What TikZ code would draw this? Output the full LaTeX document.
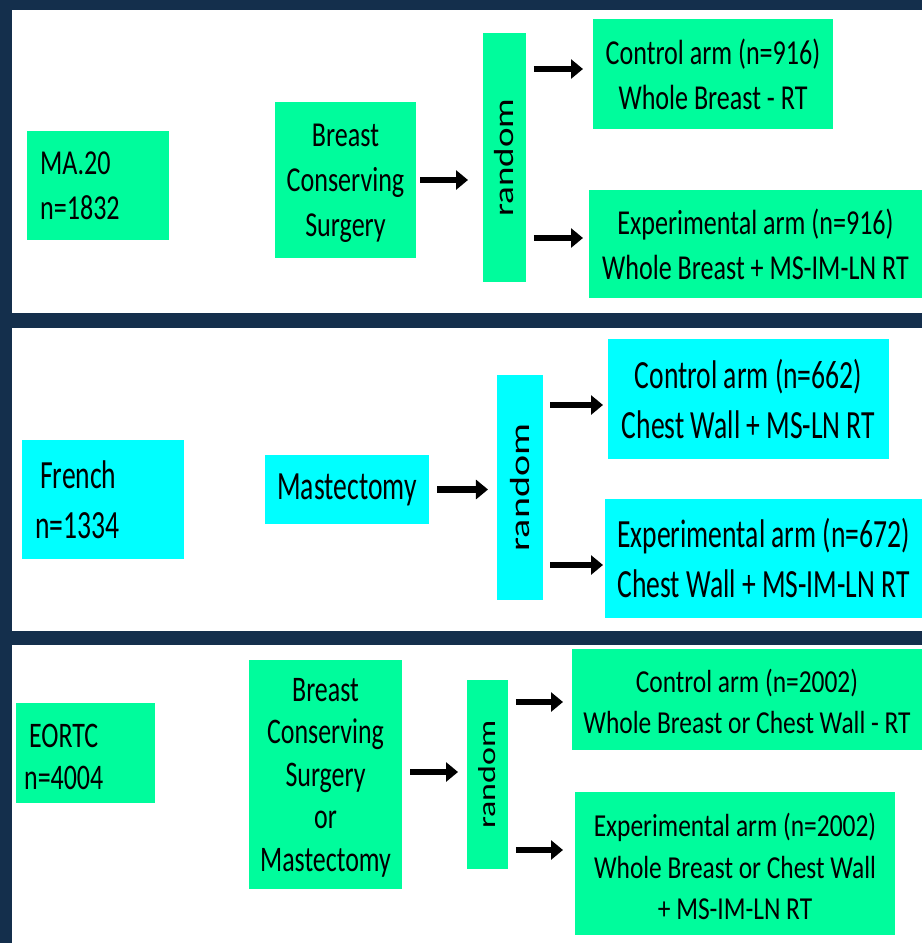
\documentclass[tikz,border=0pt]{standalone}
\usepackage{fontspec}
\setmainfont{Carlito}
\usetikzlibrary{arrows.meta}
\definecolor{navy}{RGB}{20,47,76}
\definecolor{sgreen}{RGB}{0,252,156}
\definecolor{scyan}{RGB}{0,255,255}
\tikzset{
  fb/.style={inner sep=0pt, outer sep=0pt},
  gbox/.style={fb, fill=sgreen},
  cbox/.style={fb, fill=scyan},
  tx/.style={inner sep=0pt, align=center, text=black},
  pa/.style={tx, xscale=0.745, font=\fontsize{35}{45}\selectfont},
  pb/.style={tx, xscale=0.69, font=\fontsize{40}{50}\selectfont},
  pcl/.style={tx, xscale=0.72, font=\fontsize{36}{42.5}\selectfont},
  pcr/.style={tx, xscale=0.795, font=\fontsize{32}{41.5}\selectfont},
  arr/.style={line width=6.5pt, -{Triangle[length=12pt,width=19pt]}},
}
\begin{document}
\begin{tikzpicture}[x=1pt,y=-1pt]
\useasboundingbox (0,0) rectangle (922,943);
\fill[navy] (0,0) rectangle (922,943);
\fill[white] (12,10) rectangle (922,313);
\fill[white] (12,328) rectangle (922,631);
\fill[white] (12,645) rectangle (922,943);

% ---------- Panel 1 : MA.20 ----------
\node[gbox, minimum width=142pt, minimum height=109pt] (ma) at (98,185.5) {};
\node[pa, align=left, anchor=west] (mat) at ([xshift=13pt]ma.west) {MA.20\\n=1832};
\node[gbox, minimum width=141pt, minimum height=156pt] (bcs1) at (345.5,180) {};
\node[pa] (bcs1t) at ([yshift=-3pt]bcs1.center) {Breast\\Conserving\\Surgery};
\node[gbox, tx, xscale=0.745, rotate=90, font=\fontsize{37}{45}\selectfont, minimum width=249pt, minimum height=57.7pt] (rnd1) at (504.5,157.5) {random};
\node[gbox, minimum width=240pt, minimum height=110pt] (ctrl1) at (713,74) {};
\node[pa] (ctrl1t) at (ctrl1.center) {Control arm (n=916)\\Whole Breast - RT};
\node[gbox, minimum width=333pt, minimum height=108pt] (exp1) at (755.5,244) {};
\node[pa] (exp1t) at (exp1.center) {Experimental arm (n=916)\\Whole Breast + MS-IM-LN RT};

\draw[arr, shorten <=4pt, shorten >=15pt] (bcs1.east) -- (bcs1.east -| rnd1.north);
\coordinate (c1) at ([yshift=5pt]ctrl1.west);
\coordinate (e1) at ([yshift=6pt]exp1.west);
\draw[arr, shorten <=8pt, shorten >=10pt] (rnd1.south |- c1) -- (c1);
\draw[arr, shorten <=8pt, shorten >=6pt] (rnd1.south |- e1) -- (e1);

% ---------- Panel 2 : French ----------
\node[cbox, minimum width=162pt, minimum height=119pt] (fr) at (103,499.5) {};
\node[pb, align=left, anchor=west] (frt) at ([xshift=13pt]fr.west) {\hspace*{7.2pt}French\\n=1334};
\node[cbox, minimum width=164pt, minimum height=69pt] (mast) at (347,489.5) {};
\node[pb] (mastt) at (mast.center) {Mastectomy};
\node[cbox, tx, xscale=0.69, rotate=90, font=\fontsize{40}{50}\selectfont, minimum width=225pt, minimum height=66.7pt] (rnd2) at (520,487.5) {random};
\node[cbox, minimum width=281pt, minimum height=120pt] (ctrl2) at (748.5,399) {};
\node[pb] (ctrl2t) at (ctrl2.center) {Control arm (n=662)\\Chest Wall + MS-LN RT};
\node[cbox, minimum width=317pt, minimum height=119pt] (exp2) at (763.5,558.5) {};
\node[pb] (exp2t) at (exp2.center) {Experimental arm (n=672)\\Chest Wall + MS-IM-LN RT};

\draw[arr, shorten <=8pt, shorten >=9pt] (mast.east) -- (mast.east -| rnd2.north);
\coordinate (c2) at ([yshift=-6pt]ctrl2.west);
\coordinate (e2) at ([yshift=-6.5pt]exp2.west);
\draw[arr, shorten <=7pt, shorten >=5pt] (rnd2.south |- c2) -- (c2);
\draw[arr, shorten <=7pt, shorten >=2pt] (rnd2.south |- e2) -- (e2);

% ---------- Panel 3 : EORTC ----------
\node[gbox, minimum width=139pt, minimum height=100pt] (eo) at (85.5,753) {};
\node[pcl, align=left, anchor=west] (eot) at ([xshift=8pt,yshift=-4pt]eo.west) {\hspace*{6.9pt}EORTC\\n=4004};
\node[gbox, minimum width=153pt, minimum height=229pt] (bcs3) at (325.5,774.5) {};
\node[pcl] (bcs3t) at ([yshift=-3pt]bcs3.center) {Breast\\Conserving\\Surgery\\or\\Mastectomy};
\node[gbox, tx, xscale=0.72, rotate=90, font=\fontsize{34}{42}\selectfont, minimum width=189pt, minimum height=56.9pt] (rnd3) at (487.5,774.5) {random};
\node[gbox, minimum width=350pt, minimum height=101pt] (ctrl3) at (747,699.5) {};
\node[pcr] (ctrl3t) at ([yshift=-2pt]ctrl3.center) {Control arm (n=2002)\\Whole Breast or Chest Wall - RT};
\node[gbox, minimum width=320pt, minimum height=143pt] (exp3) at (735,863.5) {};
\node[pcr] (exp3t) at ([yshift=-3pt]exp3.center) {Experimental arm (n=2002)\\Whole Breast or Chest Wall\\+ MS-IM-LN RT};

\coordinate (b3) at ([yshift=2.5pt]bcs3.east);
\draw[arr, shorten <=8pt, shorten >=9pt] (b3) -- (b3 -| rnd3.north);
\coordinate (c3) at ([yshift=-2.5pt]ctrl3.west);
\coordinate (e3) at ([yshift=13.5pt]exp3.west);
\draw[arr, shorten <=8pt, shorten >=9pt] (rnd3.south |- c3) -- (c3);
\draw[arr, shorten <=8pt, shorten >=12pt] (rnd3.south |- e3) -- (e3);
\end{tikzpicture}
\end{document}
